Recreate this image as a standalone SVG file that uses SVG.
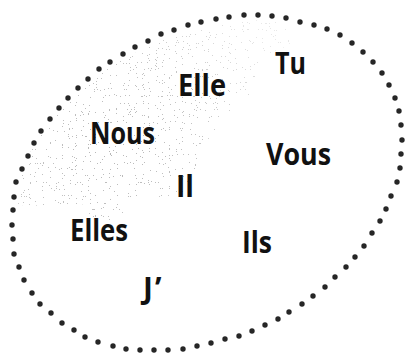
<svg xmlns="http://www.w3.org/2000/svg" width="406" height="356" viewBox="0 0 406 356">
<style>
.d{fill:#262626}
.t{font-family:"Open Sans","Noto Sans","DejaVu Sans",sans-serif;font-weight:700;font-size:30px;fill:#111}
</style>
<defs>
<filter id="stip" x="0" y="0" width="1" height="1" filterUnits="objectBoundingBox">
<feTurbulence type="fractalNoise" baseFrequency="0.85" numOctaves="1" seed="7" result="n"/>
<feColorMatrix in="n" type="matrix" values="0 0 0 0 0.45  0 0 0 0 0.45  0 0 0 0 0.45  1.6 0 0 0 -0.36" result="a"/>
<feComponentTransfer in="a" result="b"><feFuncA type="discrete" tableValues="0 0 0 0 0 0 1 1"/></feComponentTransfer>
<feComposite in="b" in2="SourceAlpha" operator="in"/>
</filter>
<radialGradient id="fade" cx="110" cy="150" r="190" gradientUnits="userSpaceOnUse">
<stop offset="0" stop-color="#000" stop-opacity="0.95"/>
<stop offset="0.55" stop-color="#000" stop-opacity="0.75"/>
<stop offset="1" stop-color="#000" stop-opacity="0.3"/>
</radialGradient>
</defs>
<rect width="406" height="356" fill="#fff"/>
<g id="shade" filter="url(#stip)">
<path fill="url(#fade)" d="M18,205 L20,180 L26,160 L36,142 L50,122 L70,100 L95,77 L125,58 L160,41 L195,29 L230,22 L260,20 L286,22 L290,45 L272,52 L262,62 L258,82 L248,98 L236,108 L222,120 L210,136 L200,156 L194,172 L190,190 L168,196 L128,200 L120,220 L90,220 L88,204 L50,206 Z"/>
</g>
<g id="boundary">
<circle class="d" cx="188" cy="25" r="2.7"/><circle class="d" cx="201" cy="22" r="2.7"/><circle class="d" cx="216" cy="19" r="2.7"/><circle class="d" cx="229" cy="17" r="2.7"/><circle class="d" cx="244" cy="15" r="2.7"/><circle class="d" cx="258" cy="15" r="2.7"/><circle class="d" cx="272" cy="16" r="2.7"/><circle class="d" cx="286" cy="18" r="2.7"/><circle class="d" cx="300" cy="22" r="2.7"/><circle class="d" cx="314" cy="25" r="2.7"/><circle class="d" cx="327" cy="29" r="2.7"/><circle class="d" cx="340" cy="35" r="2.7"/><circle class="d" cx="352" cy="43" r="2.7"/><circle class="d" cx="363" cy="52" r="2.7"/><circle class="d" cx="373" cy="62" r="2.7"/><circle class="d" cx="382" cy="73" r="2.7"/><circle class="d" cx="389" cy="85" r="2.7"/><circle class="d" cx="395" cy="98" r="2.7"/><circle class="d" cx="399" cy="111" r="2.7"/><circle class="d" cx="401" cy="125" r="2.7"/><circle class="d" cx="402" cy="140" r="2.7"/><circle class="d" cx="401" cy="154" r="2.7"/><circle class="d" cx="400" cy="168" r="2.7"/><circle class="d" cx="397" cy="182" r="2.7"/><circle class="d" cx="391" cy="196" r="2.7"/><circle class="d" cx="386" cy="209" r="2.7"/><circle class="d" cx="380" cy="221" r="2.7"/><circle class="d" cx="372" cy="233" r="2.7"/><circle class="d" cx="364" cy="246" r="2.7"/><circle class="d" cx="355" cy="257" r="2.7"/><circle class="d" cx="346" cy="267" r="2.7"/><circle class="d" cx="335" cy="277" r="2.7"/><circle class="d" cx="325" cy="287" r="2.7"/><circle class="d" cx="313" cy="296" r="2.7"/><circle class="d" cx="302" cy="304" r="2.7"/><circle class="d" cx="289" cy="312" r="2.7"/><circle class="d" cx="278" cy="319" r="2.7"/><circle class="d" cx="265" cy="325" r="2.7"/><circle class="d" cx="252" cy="331" r="2.7"/><circle class="d" cx="239" cy="336" r="2.7"/><circle class="d" cx="225" cy="339" r="2.7"/><circle class="d" cx="211" cy="343" r="2.7"/><circle class="d" cx="197" cy="346" r="2.7"/><circle class="d" cx="183" cy="349" r="2.7"/><circle class="d" cx="168" cy="350" r="2.7"/><circle class="d" cx="154" cy="350" r="2.7"/><circle class="d" cx="140" cy="350" r="2.7"/><circle class="d" cx="126" cy="349" r="2.7"/><circle class="d" cx="113" cy="346" r="2.7"/><circle class="d" cx="98" cy="342" r="2.7"/><circle class="d" cx="85" cy="337" r="2.7"/><circle class="d" cx="74" cy="330" r="2.7"/><circle class="d" cx="62" cy="323" r="2.7"/><circle class="d" cx="51" cy="313" r="2.7"/><circle class="d" cx="40" cy="304" r="2.7"/><circle class="d" cx="32" cy="293" r="2.7"/><circle class="d" cx="24" cy="280" r="2.7"/><circle class="d" cx="19" cy="267" r="2.7"/><circle class="d" cx="14" cy="254" r="2.7"/><circle class="d" cx="13" cy="239" r="2.7"/><circle class="d" cx="12" cy="225" r="2.7"/><circle class="d" cx="13" cy="210" r="2.7"/><circle class="d" cx="14" cy="197" r="2.7"/><circle class="d" cx="16" cy="182" r="2.7"/><circle class="d" cx="22" cy="169" r="2.7"/><circle class="d" cx="28" cy="156" r="2.7"/><circle class="d" cx="34" cy="143" r="2.7"/><circle class="d" cx="41" cy="131" r="2.7"/><circle class="d" cx="50" cy="119" r="2.7"/><circle class="d" cx="59" cy="108" r="2.7"/><circle class="d" cx="68" cy="98" r="2.7"/><circle class="d" cx="78" cy="88" r="2.7"/><circle class="d" cx="88" cy="79" r="2.7"/><circle class="d" cx="99" cy="69" r="2.7"/><circle class="d" cx="110" cy="62" r="2.7"/><circle class="d" cx="123" cy="54" r="2.7"/><circle class="d" cx="135" cy="47" r="2.7"/><circle class="d" cx="148" cy="41" r="2.7"/><circle class="d" cx="161" cy="34" r="2.7"/><circle class="d" cx="174" cy="30" r="2.7"/>
</g>
<g id="tu"><text class="t" x="275" y="74" textLength="31" lengthAdjust="spacingAndGlyphs">Tu</text></g>
<g id="elle"><text class="t" x="178" y="96" textLength="48" lengthAdjust="spacingAndGlyphs">Elle</text></g>
<g id="nous"><text class="t" x="90" y="144" textLength="65" lengthAdjust="spacingAndGlyphs">Nous</text></g>
<g id="vous"><text class="t" x="266" y="165" textLength="65" lengthAdjust="spacingAndGlyphs">Vous</text></g>
<g id="il"><text class="t" x="176" y="197" textLength="18" lengthAdjust="spacingAndGlyphs">Il</text></g>
<g id="elles"><text class="t" x="70" y="241" textLength="58" lengthAdjust="spacingAndGlyphs">Elles</text></g>
<g id="ils"><text class="t" x="242" y="253" textLength="30" lengthAdjust="spacingAndGlyphs">Ils</text></g>
<g id="j"><text class="t" x="143" y="299">J<tspan dx="2">’</tspan></text></g>
</svg>
